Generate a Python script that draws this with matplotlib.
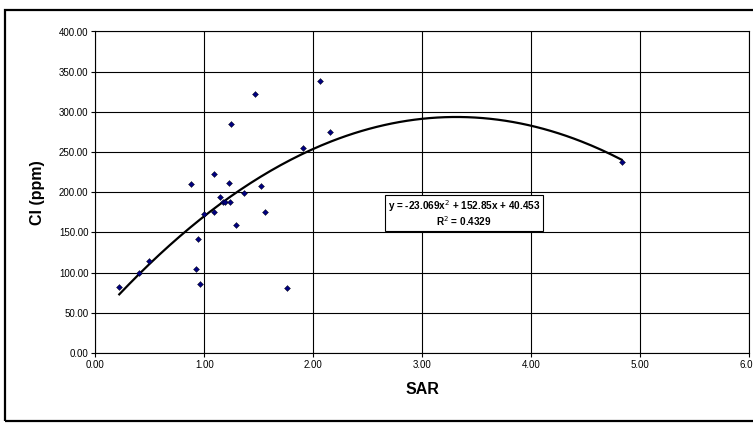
import matplotlib
matplotlib.use("Agg")
import matplotlib.pyplot as plt
from matplotlib.patches import Rectangle
import numpy as np

plt.rcParams['font.family'] = ['Liberation Sans', 'DejaVu Sans']

sar = [0.22, 0.40, 0.49, 0.88, 0.945, 0.926, 0.957, 1.00, 1.086, 1.086,
       1.147, 1.168, 1.19, 1.227, 1.24, 1.25, 1.288, 1.365, 1.47, 1.52,
       1.56, 1.76, 1.91, 2.06, 2.15, 4.83]
cl = [82, 100, 115, 210, 142, 104, 86, 173, 223, 175,
      194.5, 188, 188, 212, 188, 284.6, 159.7, 199.5, 322, 207.8,
      175, 81.3, 255.5, 338.4, 275.4, 237.6]
coef = [-23.069, 152.85, 40.453]
r2 = 0.4329
xticks = [0, 1, 2, 3, 4, 5, 6]
yticks = [0, 50, 100, 150, 200, 250, 300, 350, 400]

fig = plt.figure(figsize=(7.53, 4.23), dpi=100)
fig.patches.append(Rectangle((5/753, 2/423), 760/753, 411/423, transform=fig.transFigure,
                             fill=False, edgecolor='black', linewidth=1.6))
ax = fig.add_axes([95.3/753, 70/423, 653.7/753, 321.5/423])

ax.set_xlim(0, 6)
ax.set_ylim(0, 400)
ax.set_xticks(xticks)
ax.set_yticks(yticks)
ax.set_xticklabels([f"{v:.2f}" for v in xticks], fontsize=7)
ax.set_yticklabels([f"{v:.2f}" for v in yticks], fontsize=7)
ax.tick_params(direction='out', length=3, width=0.8, pad=2)
ax.grid(True, color='black', linewidth=0.8)
ax.set_axisbelow(True)
for s in ax.spines.values():
    s.set_linewidth(0.8)
    s.set_color('black')

xs = np.linspace(min(sar), max(sar), 200)
ax.plot(xs, np.polyval(coef, xs), color='black', linewidth=1.6, zorder=3)
ax.scatter(sar, cl, marker='D', s=9, color='#000080', edgecolors='black',
           linewidths=0.3, zorder=4)

ax.add_patch(Rectangle((2.66, 152), 1.45, 44.5, facecolor='white', edgecolor='black',
                       linewidth=0.8, zorder=5))
ax.text(3.385, 183, "y = -23.069x$^2$ + 152.85x + 40.453", ha='center', va='center',
        fontsize=7.2, fontweight='bold', zorder=6)
ax.text(3.385, 164, f"R$^2$ = {r2}", ha='center', va='center',
        fontsize=7.2, fontweight='bold', zorder=6)

ax.set_xlabel("SAR", fontsize=11.5, fontweight='bold', labelpad=9)
ax.set_ylabel("Cl (ppm)", fontsize=11.5, fontweight='bold', labelpad=10)

fig.savefig("out.png", dpi=100)
